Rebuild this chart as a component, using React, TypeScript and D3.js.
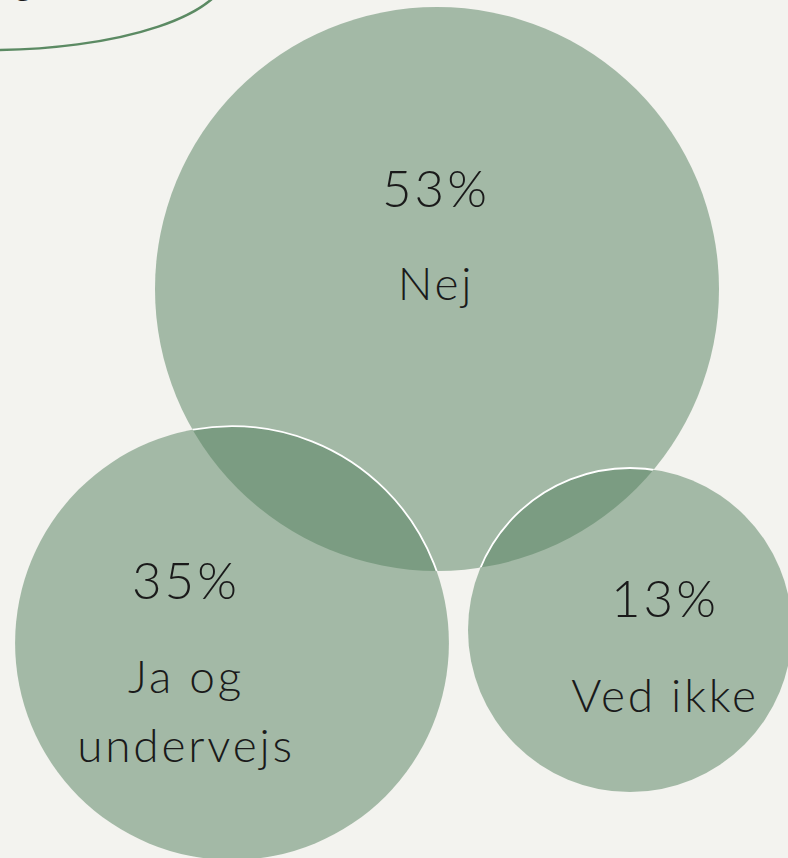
import { useEffect, useRef } from "react";
import * as d3 from "d3";

// survey answers
const categories = ["Nej", "Ja og undervejs", "Ved ikke"];
const values = [53, 35, 13];
const labelLines = [["Nej"], ["Ja og", "undervejs"], ["Ved ikke"]];

const width = 788;
const height = 858;

// where each bubble sits on the page (layout, not data)
const layout: Record<string, { x: number; y: number }> = {
  Nej: { x: 437, y: 289 },
  "Ja og undervejs": { x: 232, y: 643 },
  "Ved ikke": { x: 630, y: 630 },
};

// label block offset from the bubble centre
const labelOffsets = [
  { dx: -1, pct: -82, first: 11, step: 0 },
  { dx: -46, pct: -44, first: 50, step: 69 },
  { dx: 35, pct: -13, first: 82, step: 0 },
];

export default function App() {
  const svgRef = useRef<SVGSVGElement | null>(null);

  useEffect(() => {
    if (!svgRef.current) return;
    const svg = d3.select(svgRef.current);
    svg.selectAll("*").remove();

    svg
      .append("rect")
      .attr("width", width)
      .attr("height", height)
      .attr("fill", "#f3f3ef");

    // cropped decoration in the top left corner
    svg
      .append("ellipse")
      .attr("cx", -10)
      .attr("cy", -30)
      .attr("rx", 238)
      .attr("ry", 80)
      .attr("fill", "none")
      .attr("stroke", "#5b8a63")
      .attr("stroke-width", 2.5);

    svg
      .append("text")
      .attr("x", 14)
      .attr("y", -5)
      .attr("font-family", "Lato, sans-serif")
      .attr("font-weight", 300)
      .attr("font-size", 36)
      .attr("fill", "#1a1a1a")
      .text("g");

    const r = d3
      .scalePow()
      .exponent(1.6)
      .domain([d3.min(values)!, d3.max(values)!])
      .range([162, 282]);

    const data = categories.map((c, i) => ({
      key: c,
      value: values[i],
      lines: labelLines[i],
      ...layout[c],
    }));

    const big = data[0];
    svg
      .append("defs")
      .append("clipPath")
      .attr("id", "big-bubble-clip")
      .append("circle")
      .attr("cx", big.x)
      .attr("cy", big.y)
      .attr("r", r(big.value));

    const bubbles = svg.append("g");
    bubbles
      .selectAll("circle")
      .data(data)
      .join("circle")
      .attr("cx", (d) => d.x)
      .attr("cy", (d) => d.y)
      .attr("r", (d) => r(d.value))
      .attr("fill", "#537f5d")
      .attr("fill-opacity", 0.5);

    // white rims of the small bubbles, only visible over the big one
    svg
      .append("g")
      .attr("clip-path", "url(#big-bubble-clip)")
      .selectAll("circle")
      .data(data.slice(1))
      .join("circle")
      .attr("cx", (d) => d.x)
      .attr("cy", (d) => d.y)
      .attr("r", (d) => r(d.value))
      .attr("fill", "none")
      .attr("stroke", "#ffffff")
      .attr("stroke-width", 1.8);

    const font = "Lato, 'Open Sans', sans-serif";

    data.forEach((d, i) => {
      const o = labelOffsets[i];
      svg
        .append("text")
        .attr("x", d.x + o.dx)
        .attr("y", d.y + o.pct)
        .attr("text-anchor", "middle")
        .attr("font-family", font)
        .attr("font-weight", 300)
        .attr("font-size", 51)
        .attr("letter-spacing", 3)
        .attr("fill", "#1a1a1a")
        .text(`${d.value}%`);

      d.lines.forEach((line, j) => {
        svg
          .append("text")
          .attr("x", d.x + o.dx)
          .attr("y", d.y + o.first + j * o.step)
          .attr("text-anchor", "middle")
          .attr("font-family", font)
          .attr("font-weight", 300)
          .attr("font-size", 46)
          .attr("letter-spacing", 2.8)
          .attr("fill", "#1a1a1a")
          .text(line);
      });
    });
  }, []);

  return (
    <svg
      ref={svgRef}
      width={width}
      height={height}
      style={{ position: "absolute", left: 0, top: 0, display: "block" }}
    ></svg>
  );
}
